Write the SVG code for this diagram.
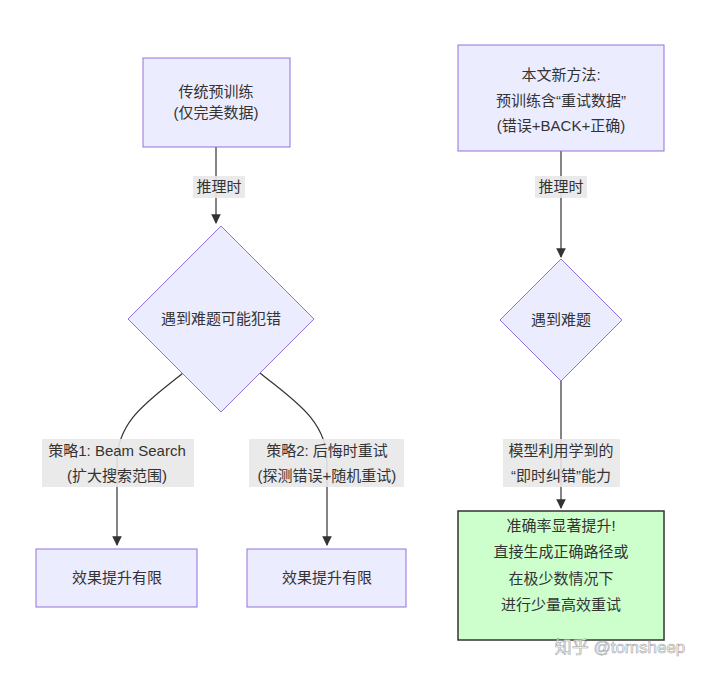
<svg xmlns="http://www.w3.org/2000/svg" width="720" height="677" viewBox="0 0 720 677">
<defs>
<marker id="ah" viewBox="0 0 10 10" refX="9" refY="5" markerWidth="8" markerHeight="8" orient="auto"><path d="M0,0L10,5L0,10z" fill="#333"/></marker>
<style>
.n{fill:#ECECFF;stroke:#9370DB;stroke-width:1}
.g{fill:#CCFFCC;stroke:#333;stroke-width:1.5}
text{font-family:"Liberation Sans","Noto Sans CJK SC",sans-serif;font-size:15px;fill:#333;text-anchor:middle}
.e{fill:none;stroke:#333;stroke-width:1.2}
.lb{fill:#E8E8E8;opacity:0.9}
</style>
</defs>
<rect width="720" height="677" fill="#fff"/>
<g id="edges">
<path class="e" d="M216,147V223" marker-end="url(#ah)"/>
<path class="e" d="M183,373C150,400 117,420 117,462V545" marker-end="url(#ah)"/>
<path class="e" d="M260,373C293,400 327,420 327,462V545" marker-end="url(#ah)"/>
<path class="e" d="M561,151V257" marker-end="url(#ah)"/>
<path class="e" d="M561,381V508" marker-end="url(#ah)"/>
<rect class="lb" x="193" y="176" width="52" height="22"/><text x="219" y="192">推理时</text>
<rect class="lb" x="535" y="176" width="52" height="22"/><text x="561" y="192">推理时</text>
<rect class="lb" x="42" y="439" width="152" height="48"/><text x="117" y="456">策略1: Beam Search</text><text x="117" y="481">(扩大搜索范围)</text>
<rect class="lb" x="249" y="439" width="155" height="48"/><text x="327" y="456">策略2: 后悔时重试</text><text x="327" y="481">(探测错误+随机重试)</text>
<rect class="lb" x="503" y="439" width="117" height="48"/><text x="561" y="456">模型利用学到的</text><text x="561" y="481">“即时纠错”能力</text>
</g>
<g id="A"><rect class="n" x="143" y="58" width="147" height="89"/><text x="216" y="97">传统预训练</text><text x="216" y="118">(仅完美数据)</text></g>
<g id="D1"><polygon class="n" points="221,226 314,319 221,412 128,319"/><text x="221" y="324">遇到难题可能犯错</text></g>
<g id="E1"><rect class="n" x="36" y="549" width="161" height="58"/><text x="117" y="583">效果提升有限</text></g>
<g id="E2"><rect class="n" x="247" y="549" width="159" height="58"/><text x="327" y="583">效果提升有限</text></g>
<g id="B"><rect class="n" x="458" y="45" width="206" height="106"/><text x="561" y="80">本文新方法:</text><text x="561" y="106">预训练含“重试数据”</text><text x="561" y="131">(错误+BACK+正确)</text></g>
<g id="D2"><polygon class="n" points="561,259 622,320 561,381 500,320"/><text x="561" y="325">遇到难题</text></g>
<g id="G"><rect class="g" x="458" y="511" width="206" height="129"/><text x="561" y="531">准确率显著提升!</text><text x="561" y="557">直接生成正确路径或</text><text x="561" y="584">在极少数情况下</text><text x="561" y="610">进行少量高效重试</text></g>
<text x="620" y="653" style="font-size:17px;fill:#fff;stroke:#999;stroke-width:0.6;opacity:0.9">知乎 @tomsheep</text>
</svg>
